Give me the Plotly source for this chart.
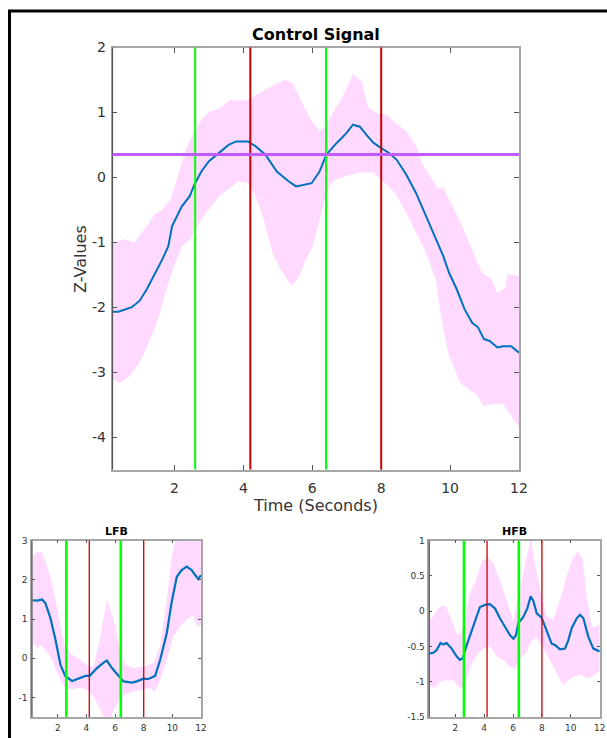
import plotly.graph_objects as go

W, H = 607, 738

# ---- Control signal (main panel) ----
ctrl_t = [0.2, 0.37, 0.76, 0.99, 1.2, 1.43, 1.65, 1.82, 1.93, 2.21, 2.44, 2.58, 2.78, 3.0, 3.28,
          3.57, 3.79, 4.13, 4.35, 4.64, 4.97, 5.31, 5.53, 5.98, 6.21, 6.41, 6.71, 6.99, 7.18,
          7.38, 7.61, 7.78, 8.0, 8.23, 8.45, 8.73, 9.01, 9.3, 9.58, 9.8, 9.97, 10.19, 10.42,
          10.64, 10.81, 10.98, 11.15, 11.37, 11.54, 11.77, 12.0]
ctrl_mean = [-2.07, -2.07, -2.0, -1.9, -1.72, -1.49, -1.26, -1.06, -0.75, -0.45, -0.29, -0.11,
             0.09, 0.25, 0.375, 0.5, 0.553, 0.553, 0.48, 0.35, 0.09, -0.06, -0.14, -0.09, 0.09,
             0.35, 0.53, 0.68, 0.81, 0.78, 0.63, 0.53, 0.45, 0.375, 0.27, 0.04, -0.24, -0.6,
             -0.96, -1.21, -1.47, -1.72, -2.03, -2.24, -2.31, -2.49, -2.52, -2.62, -2.6, -2.6, -2.7]

ctrl_up_t = [0.2, 0.54, 0.83, 0.99, 1.2, 1.43, 1.65, 1.88, 2.1, 2.33, 2.55, 2.78, 3.0, 3.33, 3.62,
             3.9, 4.18, 4.46, 4.8, 5.19, 5.42, 5.64, 5.93, 6.21, 6.38, 6.6, 6.88, 7.18, 7.44,
             7.61, 7.84, 8.17, 8.4, 8.73, 9.01, 9.18, 9.35, 9.63, 9.8, 10.02, 10.31, 10.59,
             10.92, 11.2, 11.37, 11.6, 11.66, 12.0]
ctrl_up = [-1.01, -0.95, -1.01, -0.9, -0.75, -0.57, -0.5, -0.34, 0.015, 0.43, 0.68, 0.89, 1.01,
           1.07, 1.2, 1.18, 1.2, 1.3, 1.4, 1.5, 1.46, 1.22, 0.91, 0.71, 0.78, 0.99, 1.24, 1.59,
           1.47, 1.09, 0.99, 0.96, 0.84, 0.71, 0.5, 0.22, 0.07, -0.16, -0.16, -0.39, -0.7, -1.05,
           -1.47, -1.57, -1.78, -1.7, -1.49, -1.52]

ctrl_lo_t = [0.2, 0.42, 0.7, 0.99, 1.26, 1.49, 1.77, 1.99, 2.21, 2.44, 2.78, 3.06, 3.34, 3.62,
             3.84, 4.13, 4.36, 4.59, 4.84, 5.03, 5.39, 5.6, 5.82, 6.0, 6.1, 6.27, 6.44, 6.6, 6.94,
             7.44, 7.78, 8.06, 8.4, 8.68, 9.01, 9.27, 9.58, 9.75, 9.97, 10.31, 10.76, 10.98,
             11.26, 11.54, 12.0]
ctrl_lo = [-3.11, -3.17, -3.06, -2.85, -2.54, -2.24, -1.72, -1.37, -1.06, -0.96, -0.65, -0.45,
           -0.27, -0.16, -0.06, -0.08, -0.29, -0.65, -1.16, -1.37, -1.67, -1.55, -1.26, -1.08,
           -0.9, -0.55, -0.19, -0.06, 0.015, 0.08, 0.07, -0.06, -0.24, -0.5, -0.85, -1.12,
           -1.57, -2.19, -2.75, -3.18, -3.34, -3.52, -3.49, -3.49, -3.85]

# ---- Low frequency band ----
lfb_t = [0.24, 0.56, 0.91, 1.14, 1.49, 1.84, 2.19, 2.53, 3.0, 3.46, 3.93, 4.23, 4.74, 5.2, 5.43,
         5.78, 6.25, 6.59, 7.17, 7.52, 7.99, 8.33, 8.8, 9.15, 9.61, 9.96, 10.31, 10.65, 11.0,
         11.35, 11.58, 11.81, 12.0]
lfb_mean = [1.48, 1.47, 1.5, 1.4, 1.02, 0.47, -0.17, -0.46, -0.58, -0.51, -0.45, -0.45, -0.25,
            -0.11, -0.06, -0.25, -0.46, -0.59, -0.62, -0.59, -0.52, -0.53, -0.45, -0.04, 0.64,
            1.45, 2.08, 2.25, 2.34, 2.25, 2.13, 2.02, 2.12]
lfb_up_t = [0.24, 0.56, 0.91, 1.14, 1.49, 1.84, 2.19, 2.53, 3.0, 3.58, 4.16, 4.5, 4.97, 5.43,
            5.9, 6.36, 6.71, 7.29, 7.99, 8.68, 9.15, 9.61, 9.96, 10.19, 11.0, 12.0]
lfb_up = [2.59, 2.72, 2.7, 2.46, 2.08, 1.49, 0.81, 0.26, 0.09, -0.04, -0.21, -0.21, 0.55, 1.49,
          0.98, 0.21, -0.17, -0.25, -0.21, -0.13, 0.3, 1.49, 2.59, 3.0, 3.3, 3.05]
lfb_lo_t = [0.24, 0.56, 0.79, 1.14, 1.49, 1.84, 2.19, 2.53, 3.0, 3.58, 4.04, 4.5, 4.97, 5.32,
            5.67, 6.01, 6.36, 6.71, 7.29, 7.99, 8.45, 8.8, 9.15, 9.61, 10.07, 10.54, 11.0, 11.47,
            11.7, 12.0]
lfb_lo = [0.38, 0.26, 0.34, 0.21, 0.04, -0.25, -0.55, -0.76, -0.79, -0.76, -0.8, -0.97, -1.31,
          -1.57, -1.53, -1.27, -1.02, -0.93, -0.85, -0.8, -0.76, -0.85, -0.55, -0.04, 0.55, 0.81,
          0.98, 1.11, 0.81, 0.85]

# ---- High frequency band ----
hfb_t = [0.2, 0.48, 0.71, 0.98, 1.17, 1.4, 1.75, 2.09, 2.32, 2.51, 2.79, 3.13, 3.48, 3.71, 4.06,
         4.4, 4.75, 5.09, 5.44, 5.79, 6.02, 6.2, 6.36, 6.71, 6.99, 7.22, 7.4, 7.64, 7.98, 8.33,
         8.67, 8.91, 9.25, 9.6, 9.83, 10.06, 10.41, 10.64, 10.87, 11.21, 11.56, 12.0]
hfb_mean = [-0.6, -0.59, -0.55, -0.45, -0.47, -0.45, -0.53, -0.64, -0.69, -0.67, -0.48, -0.27,
            -0.08, 0.06, 0.09, 0.1, 0.04, -0.1, -0.22, -0.34, -0.39, -0.34, -0.17, -0.08, 0.04,
            0.21, 0.15, -0.03, -0.09, -0.27, -0.46, -0.48, -0.54, -0.53, -0.41, -0.24, -0.1,
            -0.05, -0.1, -0.36, -0.53, -0.57]
hfb_up_t = [0.2, 0.48, 0.82, 1.17, 1.4, 1.75, 2.09, 2.32, 2.67, 3.02, 3.48, 3.82, 4.22, 4.63,
            5.09, 5.56, 6.02, 6.3, 6.71, 7.06, 7.22, 7.4, 7.64, 7.98, 8.33, 8.79, 9.25, 9.71,
            10.17, 10.52, 10.82, 11.1, 11.45, 11.79, 12.0]
hfb_up = [-0.12, -0.08, 0.04, 0.09, 0.05, -0.12, -0.31, -0.34, -0.12, 0.25, 0.47, 0.7, 0.77,
          0.68, 0.44, 0.16, -0.15, 0.16, 0.56, 0.89, 1.03, 0.82, 0.54, 0.21, -0.08, -0.12, 0.16,
          0.49, 0.77, 0.84, 0.73, 0.21, -0.22, -0.22, -0.17]
hfb_lo_t = [0.2, 0.59, 0.94, 1.4, 1.86, 2.21, 2.55, 2.9, 3.25, 3.59, 3.94, 4.4, 4.86, 5.33, 5.79,
            6.13, 6.48, 6.94, 7.29, 7.64, 8.1, 8.56, 9.02, 9.48, 9.83, 10.18, 10.64, 11.1, 11.45,
            11.79, 12.0]
hfb_lo = [-1.05, -1.09, -1.0, -0.98, -0.98, -1.07, -1.09, -0.88, -0.69, -0.6, -0.53, -0.5, -0.64,
          -0.69, -0.79, -0.81, -0.69, -0.57, -0.41, -0.38, -0.53, -0.69, -0.88, -1.05, -0.98,
          -0.93, -0.9, -0.95, -0.93, -0.88, -0.83]

# Tick values per panel
time_ticks = [2, 4, 6, 8, 10, 12]
ctrl_yticks = [-4, -3, -2, -1, 0, 1, 2]
lfb_yticks = [-1, 0, 1, 2, 3]
hfb_yticks = [-1.5, -1, -0.5, 0, 0.5, 1]

# Event markers and threshold
onset_times = [2.6, 6.4]
offset_times = [4.2, 8.0]
threshold = 0.35

BLUE = "#0072BD"
BAND = "#FFD9FF"
GREEN = "#00FF00"
RED = "#CC0000"
PURPLE = "#C05CFF"
TICK = "#333333"
FONT = "DejaVu Sans"


def px_x(p):
    return p / W


def px_y(p):
    return 1 - p / H


def label(v):
    return ("%g" % v)


fig = go.Figure()

panels = [
    ("", ctrl_t, ctrl_mean, ctrl_up_t, ctrl_up, ctrl_lo_t, ctrl_lo,
     [px_x(112.5), px_x(519)], [px_y(469.5), px_y(47.5)], [-4.5, 2], ctrl_yticks),
    ("2", lfb_t, lfb_mean, lfb_up_t, lfb_up, lfb_lo_t, lfb_lo,
     [px_x(32), px_x(201)], [px_y(717), px_y(540.7)], [-1.5, 3], lfb_yticks),
    ("3", hfb_t, hfb_mean, hfb_up_t, hfb_up, hfb_lo_t, hfb_lo,
     [px_x(429.3), px_x(599.7)], [px_y(717), px_y(540.7)], [-1.5, 1], hfb_yticks),
]

for sfx, t, m, ut, u, lt, lo, xd, yd, yr, yt in panels:
    xa, ya = "x" + sfx, "y" + sfx
    main = sfx == ""
    fig.add_trace(go.Scatter(
        x=ut + lt[::-1], y=u + lo[::-1], fill="toself", fillcolor=BAND,
        line=dict(width=0), mode="lines", hoverinfo="skip", showlegend=False,
        xaxis=xa, yaxis=ya))
    fig.add_trace(go.Scatter(
        x=t, y=m, mode="lines", line=dict(color=BLUE, width=2 if main else 2.2),
        showlegend=False, xaxis=xa, yaxis=ya))

    tick_font = dict(family=FONT, size=14 if main else 9, color=TICK)
    fig.update_layout(**{
        "xaxis" + sfx: dict(
            domain=xd, range=[0.2, 12], tickvals=time_ticks,
            ticktext=[label(v) for v in time_ticks],
            ticks="inside", ticklen=5 if main else 3, tickcolor="#555555",
            ticklabelstandoff=5 if main else 1,
            showline=True, linecolor="#A6A6A6", linewidth=2 if main else 1.5, mirror="ticks",
            showgrid=False, zeroline=False, tickfont=tick_font, anchor=ya, automargin=False),
        "yaxis" + sfx: dict(
            domain=yd, range=yr, tickvals=yt, ticktext=[label(v) for v in yt],
            ticks="inside", ticklen=5 if main else 3, tickcolor="#555555",
            ticklabelstandoff=2 if main else 1,
            showline=True, linecolor="#A6A6A6", linewidth=1.5, mirror="ticks",
            showgrid=False, zeroline=False, tickfont=tick_font, anchor=xa, automargin=False),
    })

    # darker left spine
    fig.add_shape(type="line", xref=xa + " domain", yref=ya + " domain",
                  x0=0, x1=0, y0=0, y1=1, line=dict(color="#555555", width=1.2))

    lw_g = 2 if main else 2.6
    lw_r = 2 if main else 1.3
    for ts in onset_times:
        fig.add_shape(type="line", xref=xa, yref=ya + " domain", x0=ts, x1=ts, y0=0, y1=1,
                      line=dict(color=GREEN, width=lw_g))
    for ts in offset_times:
        fig.add_shape(type="line", xref=xa, yref=ya + " domain", x0=ts, x1=ts, y0=0, y1=1,
                      line=dict(color=RED, width=lw_r))
    if main:
        fig.add_shape(type="line", xref=xa + " domain", yref=ya, x0=0, x1=1,
                      y0=threshold, y1=threshold, line=dict(color=PURPLE, width=3))

# Panel titles
titles = [("Control Signal", (112.5 + 519) / 2, 34, 16),
          ("LFB", (32 + 201) / 2, 531.5, 11),
          ("HFB", (429.3 + 599.7) / 2, 531.5, 11)]
for txt, cx, cy, sz in titles:
    fig.add_annotation(text="<b>%s</b>" % txt, xref="paper", yref="paper",
                       x=px_x(cx), y=px_y(cy), showarrow=False,
                       font=dict(family=FONT, size=sz, color="#000000"),
                       xanchor="center", yanchor="middle")

# Axis titles of the main panel
fig.add_annotation(text="Time (Seconds)", xref="paper", yref="paper",
                   x=px_x(315.5), y=px_y(506), showarrow=False,
                   font=dict(family=FONT, size=16, color=TICK),
                   xanchor="center", yanchor="middle")
fig.add_annotation(text="Z-Values", xref="paper", yref="paper",
                   x=px_x(80), y=px_y(259), showarrow=False, textangle=-90,
                   font=dict(family=FONT, size=16, color=TICK),
                   xanchor="center", yanchor="middle")

# Figure frame
fig.add_shape(type="rect", xref="paper", yref="paper",
              x0=px_x(9.5), x1=1.05, y0=-0.05, y1=px_y(11),
              line=dict(color="#000000", width=3), layer="above")

fig.update_layout(width=W, height=H, margin=dict(l=0, r=0, t=0, b=0, pad=0),
                  autosize=False, paper_bgcolor="white", plot_bgcolor="white",
                  font=dict(family=FONT))

fig.write_html("out.html")
